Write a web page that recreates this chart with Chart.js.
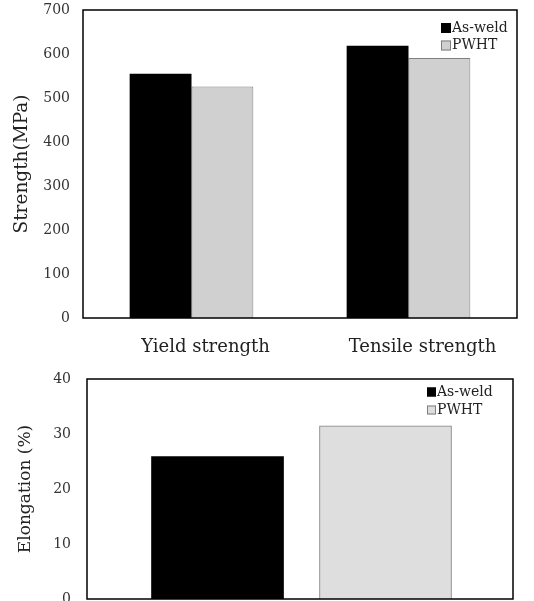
<!DOCTYPE html>
<html>
<head>
<meta charset="utf-8">
<script src="https://cdn.jsdelivr.net/npm/chart.js@4.4.1/dist/chart.umd.min.js"></script>
<style>
  html, body { margin: 0; padding: 0; background: #fff; overflow: hidden; }
  #top { position: absolute; left: 0; top: 0; width: 534px; height: 365px; }
  #bottom { position: absolute; left: 0; top: 365px; width: 534px; height: 250px; }
</style>
</head>
<body>
<div id="top"><canvas id="strengthChart"></canvas></div>
<div id="bottom"><canvas id="elongationChart"></canvas></div>
<script>
// data
const seriesNames = ['As-weld', 'PWHT'];
const strengthCategories = ['Yield strength', 'Tensile strength'];
const strengthAsWeld = [555, 619];
const strengthPWHT = [526, 591];
const strengthTicks = [0, 100, 200, 300, 400, 500, 600, 700];
const elongationAsWeld = 25.9;
const elongationPWHT = 31.5;
const elongationTicks = [0, 10, 20, 30, 40];

const serif = 'DejaVu Serif';

// box around the plot area + legend drawn inside it
const frameAndLegend = {
  id: 'frameAndLegend',
  afterDatasetsDraw(chart, args, opts) {
    const { ctx, chartArea: a } = chart;
    ctx.save();
    ctx.strokeStyle = '#000';
    ctx.lineWidth = 1.5;
    ctx.strokeRect(a.left, a.top, a.right - a.left, a.bottom - a.top);

    ctx.font = opts.fontSize + 'px "' + serif + '"';
    ctx.textBaseline = 'middle';
    chart.data.datasets.forEach((ds, i) => {
      const x = a.right - opts.right;
      const y = a.top + opts.top + i * opts.gap;
      ctx.fillStyle = ds.backgroundColor;
      ctx.fillRect(x, y - opts.box / 2, opts.box, opts.box);
      ctx.strokeStyle = ds.borderColor;
      ctx.lineWidth = 1;
      ctx.strokeRect(x + 0.5, y - opts.box / 2 + 0.5, opts.box - 1, opts.box - 1);
      ctx.fillStyle = '#222';
      ctx.fillText(ds.label, x + opts.box + 1, y);
    });
    ctx.restore();
  }
};

// y axis: fixed width, no extra room for the end labels
const fixY = w => s => { s.width = w; s.paddingTop = 0; s.paddingBottom = 0; };

new Chart(document.getElementById('strengthChart'), {
  type: 'bar',
  data: {
    labels: strengthCategories,
    datasets: [
      { label: seriesNames[0], data: strengthAsWeld, backgroundColor: '#000', borderColor: '#000', borderWidth: 0 },
      { label: seriesNames[1], data: strengthPWHT, backgroundColor: '#d0d0d0', borderColor: '#7f7f7f', borderWidth: 1 }
    ]
  },
  options: {
    responsive: true,
    maintainAspectRatio: false,
    animation: false,
    layout: { padding: { left: 0, right: 17, top: 10, bottom: 0 } },
    datasets: { bar: { categoryPercentage: 0.57, barPercentage: 1 } },
    plugins: {
      legend: { display: false },
      tooltip: { enabled: false },
      frameAndLegend: { right: 76, top: 18, gap: 17.5, box: 10, fontSize: 14 }
    },
    scales: {
      x: {
        grid: { display: false, drawTicks: false },
        border: { display: false },
        ticks: { padding: 19, labelOffset: 14, color: '#222', font: { family: serif, size: 18 } },
        afterFit: s => { s.height = 47; }
      },
      y: {
        min: 0,
        max: 700,
        grid: { display: false, drawTicks: false },
        border: { display: false },
        ticks: { padding: 13, color: '#333', font: { family: serif, size: 14 } },
        afterBuildTicks: s => { s.ticks = strengthTicks.map(v => ({ value: v })); },
        title: { display: true, text: 'Strength(MPa)', color: '#222', padding: { top: 11, bottom: 0 }, font: { family: serif, size: 18.5 } },
        afterFit: fixY(83)
      }
    }
  },
  plugins: [frameAndLegend]
});

new Chart(document.getElementById('elongationChart'), {
  type: 'bar',
  data: {
    datasets: [
      { label: seriesNames[0], data: [{ x: 1, y: elongationAsWeld }], backgroundColor: '#000', borderColor: '#000', borderWidth: 0 },
      { label: seriesNames[1], data: [{ x: 2, y: elongationPWHT }], backgroundColor: '#dedede', borderColor: '#7f7f7f', borderWidth: 1 }
    ]
  },
  options: {
    responsive: true,
    maintainAspectRatio: false,
    animation: false,
    layout: { padding: { left: 0, right: 21, top: 14, bottom: 16 } },
    datasets: { bar: { grouped: false, barThickness: 132 } },
    plugins: {
      legend: { display: false },
      tooltip: { enabled: false },
      frameAndLegend: { right: 86, top: 13, gap: 18, box: 9, fontSize: 14 }
    },
    scales: {
      x: { type: 'linear', display: false, offset: false, min: 0.223, max: 2.759 },
      y: {
        min: 0,
        max: 40,
        grid: { display: false, drawTicks: false },
        border: { display: false },
        ticks: { padding: 16, color: '#333', font: { family: serif, size: 14 } },
        afterBuildTicks: s => { s.ticks = elongationTicks.map(v => ({ value: v })); },
        title: { display: true, text: 'Elongation (%)', color: '#222', padding: { top: 15, bottom: 0 }, font: { family: serif, size: 17 } },
        afterFit: fixY(87)
      }
    }
  },
  plugins: [frameAndLegend]
});
</script>
</body>
</html>
